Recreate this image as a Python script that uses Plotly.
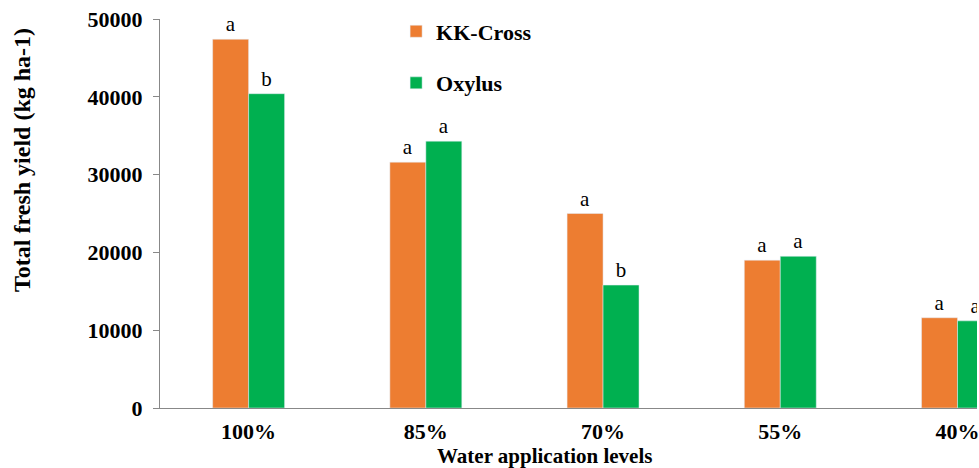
import plotly.graph_objects as go

# Water application levels and total fresh yield per cultivar (kg/ha)
levels = ["100%", "85%", "70%", "55%", "40%"]
kk_cross = [47400, 31600, 25000, 19000, 11600]
oxylus = [40400, 34300, 15800, 19500, 11200]
kk_letters = ["a", "a", "a", "a", "a"]
ox_letters = ["b", "a", "b", "a", "a"]
y_ticks = [0, 10000, 20000, 30000, 40000, 50000]

serif = "Liberation Serif, Times New Roman, serif"
orange = "#ED7D31"
green = "#00B050"
fs = 22

fig = go.Figure()
fig.add_trace(go.Bar(
    x=levels, y=kk_cross, name="KK-Cross", marker_color=orange,
    text=kk_letters, textposition="outside", legendgroup="g1",
    textfont=dict(family=serif, size=21, color="black"),
))
fig.add_trace(go.Bar(
    x=levels, y=oxylus, name="Oxylus", marker_color=green,
    text=ox_letters, textposition="outside", legendgroup="g2",
    textfont=dict(family=serif, size=21, color="black"),
))

fig.update_layout(
    width=979, height=468,
    margin=dict(l=160, r=0, t=19, b=60),
    paper_bgcolor="white", plot_bgcolor="white",
    barmode="group", bargap=0.594, bargroupgap=0,
    font=dict(family=serif, color="black"),
    legend=dict(
        x=0.289, y=1.022, xanchor="left", yanchor="top",
        font=dict(family=serif, size=fs, color="black", weight="bold"),
        tracegroupgap=20, bgcolor="rgba(0,0,0,0)",
    ),
    showlegend=True,
)

fig.update_yaxes(
    range=[0, 50000], tickvals=y_ticks, ticktext=[str(v) for v in y_ticks],
    showgrid=False, zeroline=False,
    showline=True, linecolor="#888888", linewidth=1,
    ticks="outside", ticklen=6, tickcolor="#888888", ticklabelstandoff=6,
    tickfont=dict(family=serif, size=fs, color="black", weight="bold"),
)
fig.update_xaxes(
    range=[-0.5, 4.11],
    showgrid=False, showline=True, linecolor="#888888", linewidth=1,
    ticks="", ticklabelstandoff=4,
    tickfont=dict(family=serif, size=fs, color="black", weight="bold"),
)

fig.add_annotation(
    text="Total fresh yield (kg ha-1)", textangle=-90,
    xref="paper", yref="paper", x=-0.169, y=0.6375,
    xanchor="center", yanchor="middle", showarrow=False,
    font=dict(family=serif, size=24, color="black", weight="bold"),
)
fig.add_annotation(
    text="Water application levels",
    xref="paper", yref="paper", x=0.471, y=-0.123,
    xanchor="center", yanchor="middle", showarrow=False,
    font=dict(family=serif, size=21, color="black", weight="bold"),
)

fig.write_html("out.html")
